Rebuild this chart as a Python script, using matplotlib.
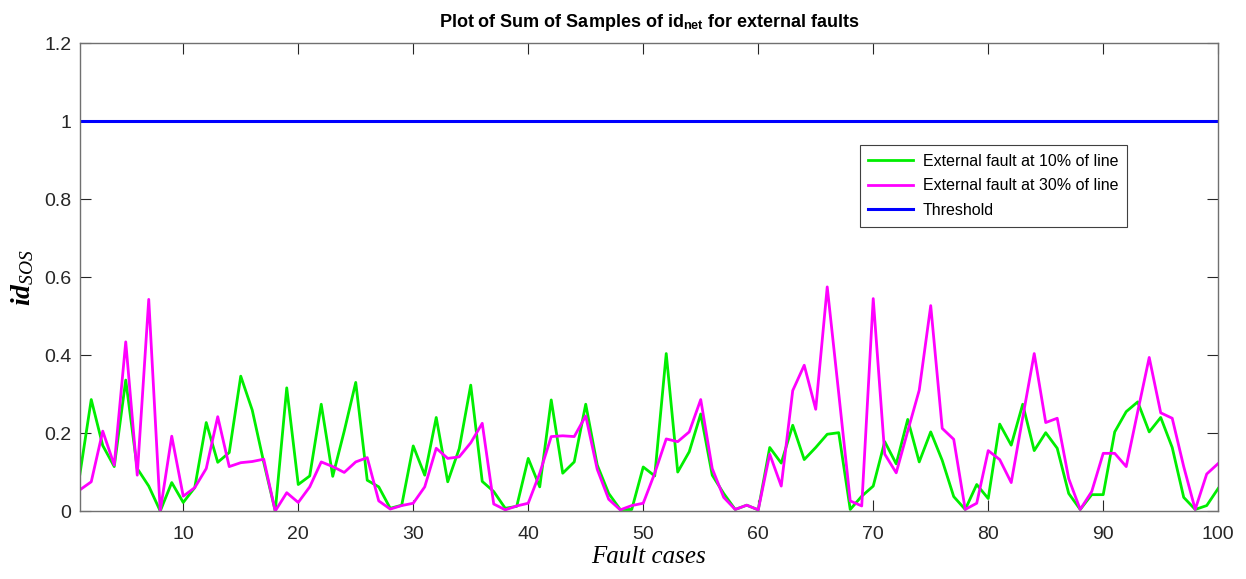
import numpy as np
import matplotlib
matplotlib.use("Agg")
import matplotlib.pyplot as plt

# fault case index
cases = np.arange(1, 101)

# sum of samples of id_net, external fault at 10% of line
ext10 = [0.092, 0.286, 0.168, 0.114, 0.336, 0.109, 0.064, 0.0, 0.073, 0.022,
         0.060, 0.227, 0.125, 0.150, 0.346, 0.259, 0.125, 0.0, 0.316, 0.068,
         0.090, 0.274, 0.089, 0.205, 0.330, 0.079, 0.062, 0.007, 0.015, 0.167,
         0.092, 0.240, 0.075, 0.160, 0.323, 0.076, 0.050, 0.007, 0.012, 0.135,
         0.062, 0.285, 0.097, 0.126, 0.274, 0.118, 0.045, 0.004, 0.004, 0.113,
         0.090, 0.404, 0.100, 0.152, 0.249, 0.092, 0.045, 0.004, 0.015, 0.003,
         0.163, 0.123, 0.220, 0.132, 0.163, 0.197, 0.201, 0.004, 0.038, 0.064,
         0.178, 0.121, 0.235, 0.126, 0.203, 0.130, 0.037, 0.004, 0.068, 0.032,
         0.223, 0.169, 0.274, 0.155, 0.201, 0.161, 0.045, 0.004, 0.042, 0.042,
         0.203, 0.255, 0.280, 0.203, 0.240, 0.163, 0.035, 0.004, 0.014, 0.058]

# external fault at 30% of line
ext30 = [0.054, 0.075, 0.205, 0.118, 0.434, 0.092, 0.543, 0.0, 0.192, 0.038,
         0.060, 0.109, 0.242, 0.114, 0.124, 0.127, 0.133, 0.0, 0.047, 0.022,
         0.062, 0.126, 0.114, 0.099, 0.126, 0.137, 0.026, 0.005, 0.014, 0.020,
         0.062, 0.161, 0.135, 0.139, 0.175, 0.225, 0.018, 0.003, 0.013, 0.020,
         0.097, 0.191, 0.193, 0.191, 0.244, 0.107, 0.030, 0.003, 0.014, 0.020,
         0.097, 0.185, 0.178, 0.203, 0.286, 0.109, 0.035, 0.004, 0.015, 0.003,
         0.146, 0.064, 0.309, 0.374, 0.261, 0.575, 0.302, 0.026, 0.013, 0.545,
         0.146, 0.098, 0.205, 0.310, 0.527, 0.212, 0.184, 0.004, 0.020, 0.155,
         0.132, 0.073, 0.240, 0.404, 0.227, 0.238, 0.083, 0.004, 0.050, 0.148,
         0.148, 0.114, 0.255, 0.394, 0.252, 0.238, 0.114, 0.004, 0.095, 0.122]

threshold = np.ones(len(cases))

xticks = np.arange(10, 101, 10)
yticks = [0, 0.2, 0.4, 0.6, 0.8, 1, 1.2]
ytick_labels = ["0", "0.2", "0.4", "0.6", "0.8", "1", "1.2"]

plt.rcParams["font.family"] = ["Liberation Sans", "DejaVu Sans"]
plt.rcParams["mathtext.fontset"] = "custom"
plt.rcParams["mathtext.rm"] = "Liberation Serif"
plt.rcParams["mathtext.it"] = "Liberation Serif:italic"
plt.rcParams["mathtext.bfit"] = "Liberation Serif:italic:bold"
plt.rcParams["mathtext.sf"] = "Liberation Sans:bold"

fig = plt.figure(figsize=(12.46, 5.79), dpi=100)
ax = fig.add_axes([0.064, 0.1174, 0.9137, 0.8078])

ax.plot(cases, ext10, color="#00ee00", lw=2.0, label="External fault at 10% of line")
ax.plot(cases, ext30, color="#ff00ff", lw=2.0, label="External fault at 30% of line")
ax.plot(cases, threshold, color="#0000ff", lw=2.2, label="Threshold")

ax.set_xlim(1, 100)
ax.set_ylim(0, 1.2)
ax.set_xticks(xticks)
ax.set_yticks(yticks)
ax.set_yticklabels(ytick_labels)
ax.tick_params(direction="in", top=True, right=True, length=8, width=0.8,
               labelsize=14, colors="#262626")
ax.tick_params(axis="x", pad=11)
ax.tick_params(axis="y", pad=6)
for s in ax.spines.values():
    s.set_color("#707070")
    s.set_linewidth(1.0)

ax.set_title(r"Plot of Sum of Samples of id$_{\mathsf{net}}$ for external faults",
             fontsize=13, fontweight="bold", pad=12)
ax.set_xlabel("Fault cases", family="Liberation Serif", style="italic",
              fontsize=18, labelpad=2)
ax.set_ylabel(r"$\mathbfit{id}_{\mathit{SOS}}$", fontsize=20, labelpad=6)

leg = ax.legend(loc="upper left", bbox_to_anchor=(0.685, 0.783), borderaxespad=0,
                fontsize=11.5, handlelength=2.8, fancybox=False, framealpha=1,
                borderpad=0.55, labelspacing=0.6, handletextpad=0.6)
leg.get_frame().set_edgecolor("#404040")
leg.get_frame().set_linewidth(0.8)

fig.savefig("out.png", dpi=100)
